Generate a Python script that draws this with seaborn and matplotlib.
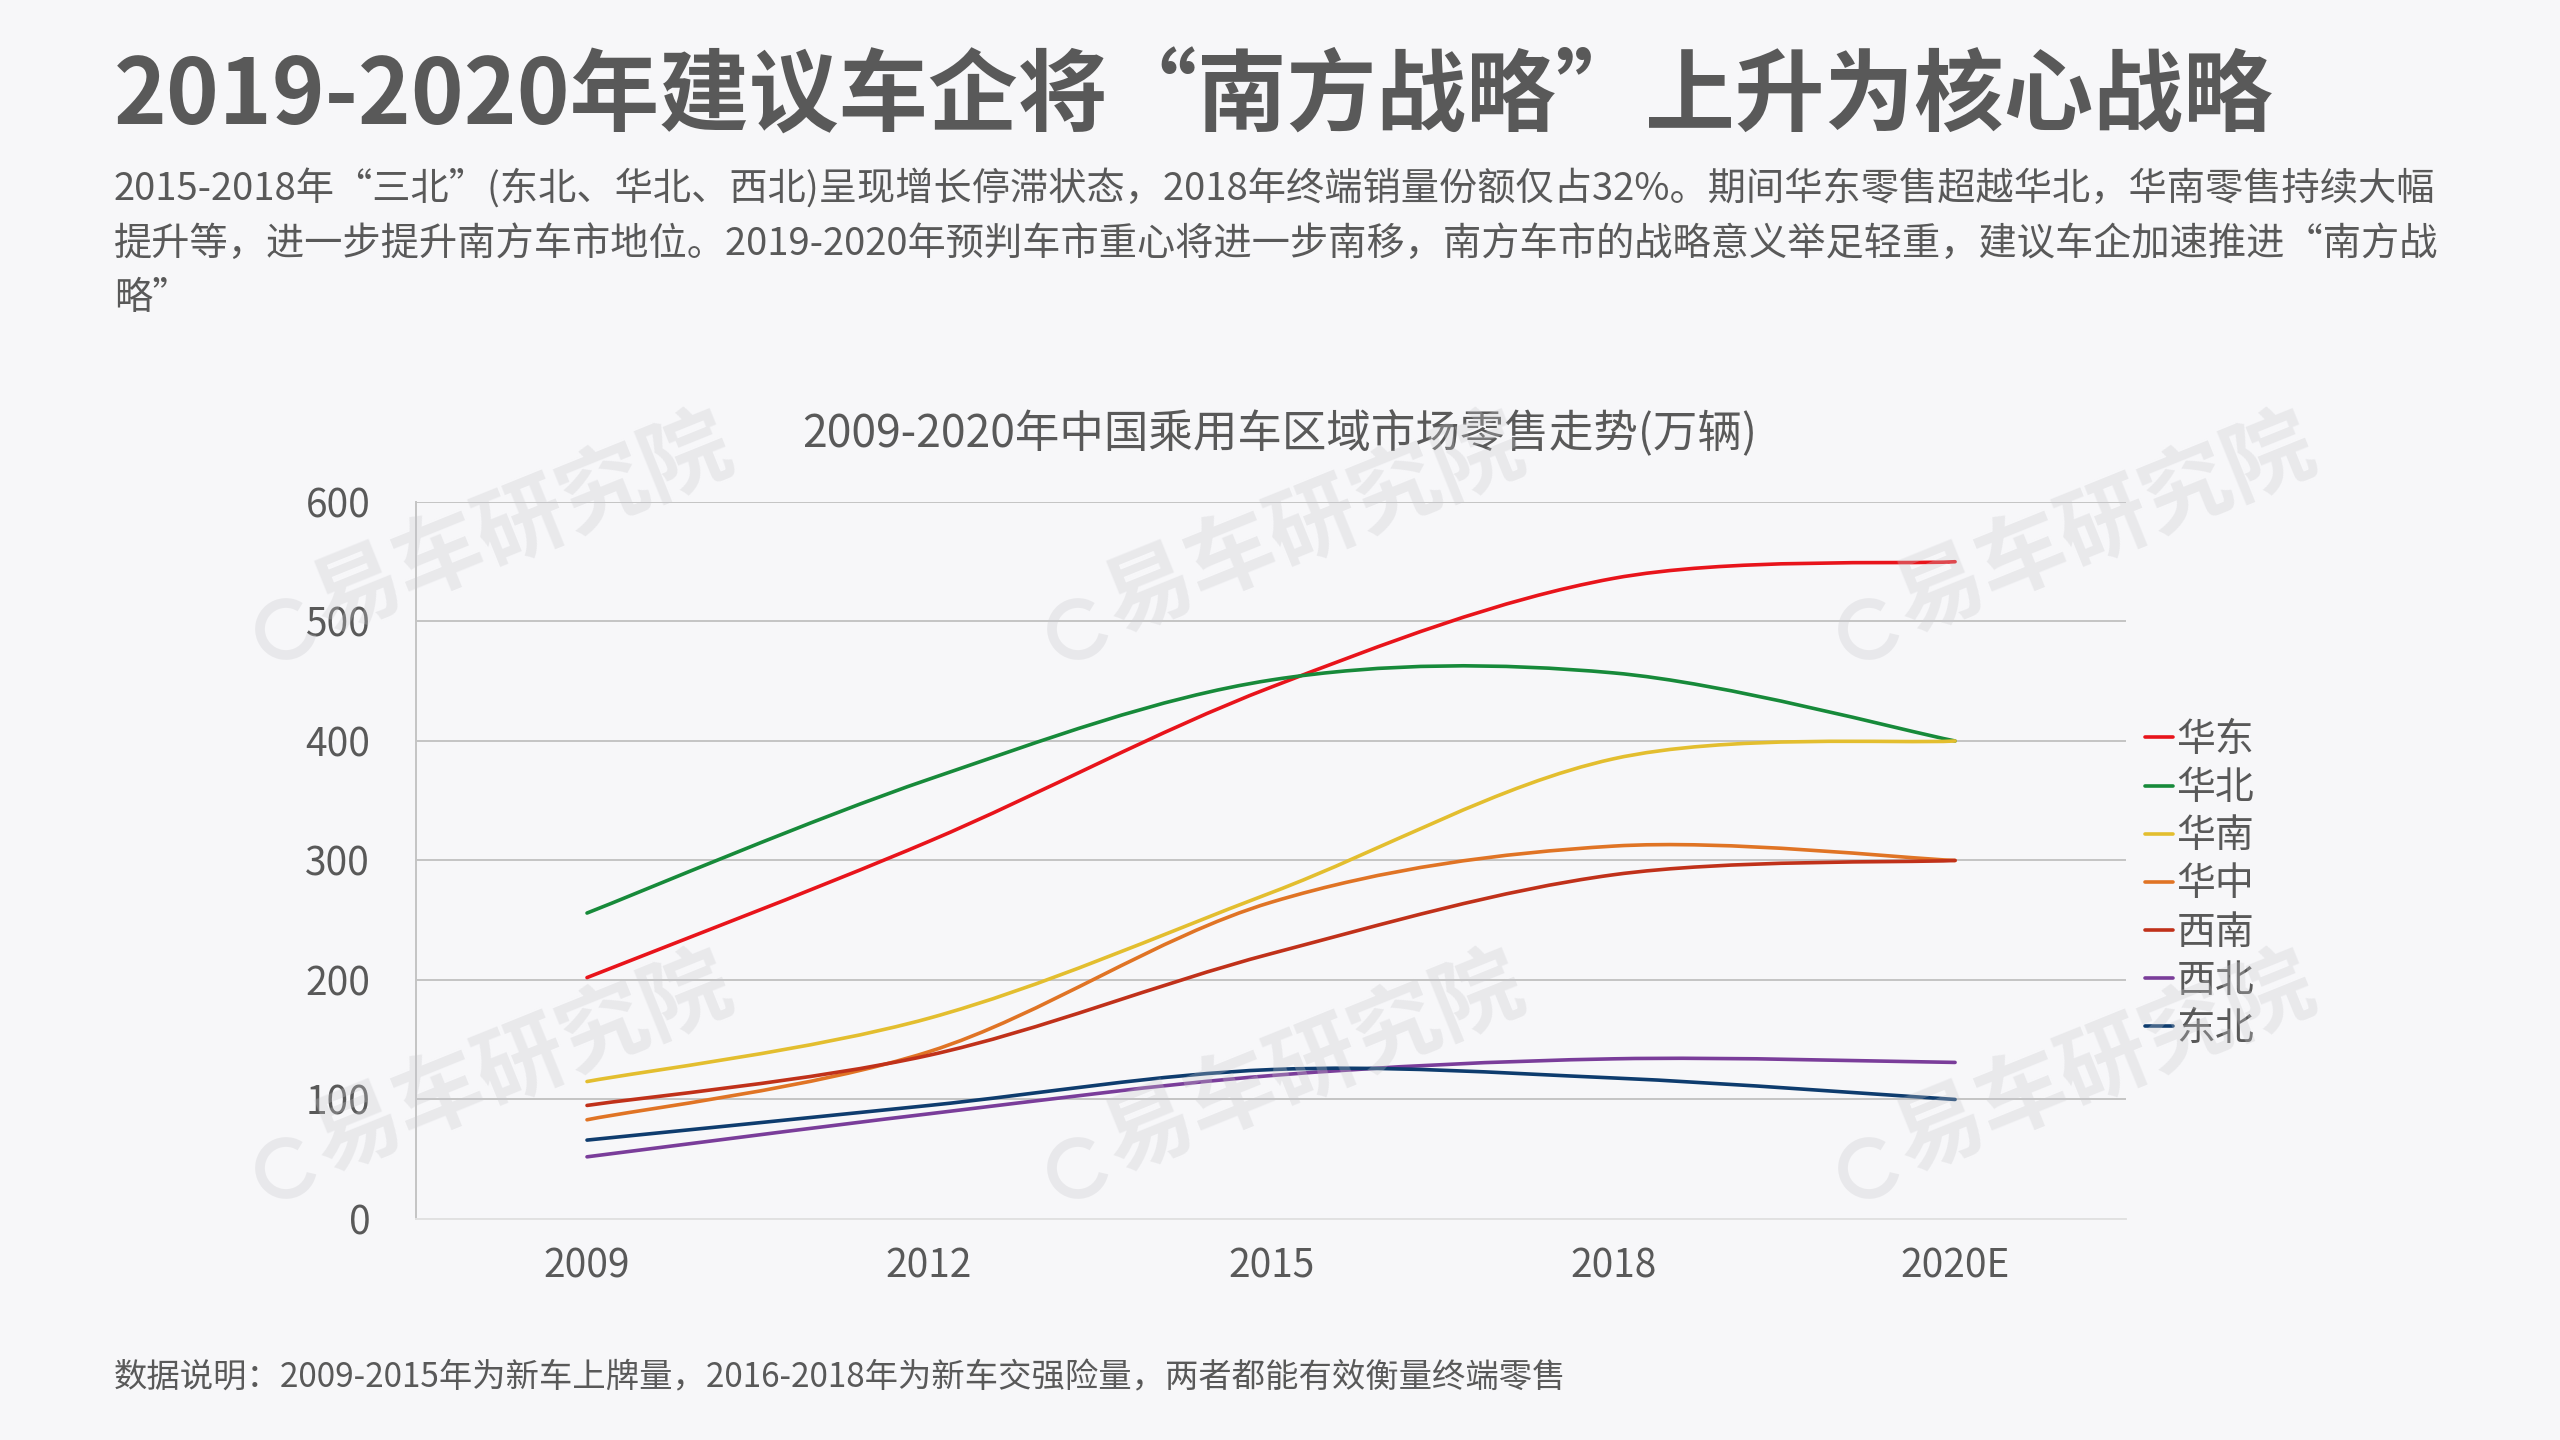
import numpy as np
import matplotlib.pyplot as plt
import seaborn as sns
from matplotlib.path import Path
from matplotlib.patches import PathPatch, Arc
from matplotlib.lines import Line2D

# 数据 (万辆)
years = ['2009', '2012', '2015', '2018', '2020E']
regions = ['华东', '华北', '华南', '华中', '西南', '西北', '东北']
huadong = [202, 316, 445, 536, 550]
huabei = [256, 368, 451, 457, 400]
huanan = [115, 168, 273, 385, 400]
huazhong = [83, 140, 265, 312, 300]
xinan = [95, 137, 222, 288, 300]
xibei = [52, 88, 120, 134, 131]
dongbei = [66, 95, 125, 118, 100]
series = [huadong, huabei, huanan, huazhong, xinan, xibei, dongbei]
colors = ['#E8141B', '#178A3A', '#E3BE2F', '#E07425', '#C0311A', '#7A3D9A', '#0E3C6E']

title = '2019-2020年建议车企将“南方战略”上升为核心战略'
subtitle = [
    '2015-2018年“三北”(东北、华北、西北)呈现增长停滞状态，2018年终端销量份额仅占32%。期间华东零售超越华北，华南零售持续大幅',
    '提升等，进一步提升南方车市地位。2019-2020年预判车市重心将进一步南移，南方车市的战略意义举足轻重，建议车企加速推进“南方战',
    '略”',
]
chart_title = '2009-2020年中国乘用车区域市场零售走势(万辆)'
note = '数据说明：2009-2015年为新车上牌量，2016-2018年为新车交强险量，两者都能有效衡量终端零售'

sns.set_style('white')
plt.rcParams['font.family'] = ['Noto Sans CJK SC', 'DejaVu Sans']

BG = '#F7F7F9'
GREY = '#595959'


def smooth_path(xs, ys):
    # 类似Excel的平滑线：三次贝塞尔，控制点由相邻点决定
    pts = np.column_stack([xs, ys]).astype(float)
    n = len(pts)
    verts = [pts[0]]
    codes = [Path.MOVETO]
    for i in range(n - 1):
        p0 = pts[max(i - 1, 0)]
        p1 = pts[i]
        p2 = pts[i + 1]
        p3 = pts[min(i + 2, n - 1)]
        verts += [p1 + (p2 - p0) / 6, p2 - (p3 - p1) / 6, p2]
        codes += [Path.CURVE4] * 3
    return Path(verts, codes)


fig = plt.figure(figsize=(25.6, 14.4), dpi=100, facecolor=BG)
ax = fig.add_axes([0.1625, 0.1535, 0.668, 0.4979])
ax.set_facecolor(BG)

x = np.arange(len(years))
for vals, c in zip(series, colors):
    ax.add_patch(PathPatch(smooth_path(x, vals), facecolor='none', edgecolor=c,
                           lw=2.6, capstyle='round', zorder=3))

ax.set_xlim(-0.5, len(years) - 0.5)
ax.set_ylim(0, 600)
ax.set_xticks(x)
ax.set_xticklabels(years)
ax.set_yticks(range(0, 601, 100))
ax.yaxis.grid(True, color='#C4C4C4', lw=1.4)
ax.xaxis.grid(False)
ax.tick_params(axis='both', length=0, labelsize=28, colors=GREY)
ax.tick_params(axis='x', pad=20)
ax.tick_params(axis='y', pad=33)
for s in ['top', 'right']:
    ax.spines[s].set_visible(False)
ax.spines['left'].set_color('#C4C4C4')
ax.spines['left'].set_linewidth(1.4)
ax.spines['bottom'].set_color('#E2E2E2')
ax.spines['bottom'].set_linewidth(1.4)

handles = [Line2D([], [], color=c, lw=2.6) for c in colors]
fig.legend(handles, regions, loc='upper left', bbox_to_anchor=(0.838, 0.500),
           frameon=False, fontsize=28, labelcolor=GREY, handlelength=0.7,
           handletextpad=0.1, labelspacing=0.21, borderpad=0, borderaxespad=0)

# 标题
fig.text(0.0445, 0.932, title, fontsize=64.5, fontweight='bold', color=GREY, va='center')
for i, line in enumerate(subtitle):
    fig.text(0.0445, 0.868 - i * 0.0378, line, fontsize=27.5, color=GREY, va='center')
fig.text(0.5, 0.699, chart_title, fontsize=32, color=GREY, ha='center', va='center')
fig.text(0.0445, 0.043, note, fontsize=24, color=GREY, va='center')

# 水印
for cx in [522, 1314, 2105]:
    for cy in [526, 1065]:
        fig.text(cx / 2560, 1 - cy / 1440, '易车研究院', fontsize=64, fontweight='bold',
                 color='#C8C8CC', alpha=0.3, rotation=22, ha='center', va='center',
                 rotation_mode='anchor', zorder=10)
        fig.patches.append(Arc(((cx - 236) / 2560, 1 - (cy + 103) / 1440), 52 / 2560, 52 / 1440,
                               theta1=70, theta2=340, lw=7, color='#C8C8CC', alpha=0.3,
                               transform=fig.transFigure, figure=fig, zorder=10))

fig.savefig('out.png', dpi=100, facecolor=BG)
